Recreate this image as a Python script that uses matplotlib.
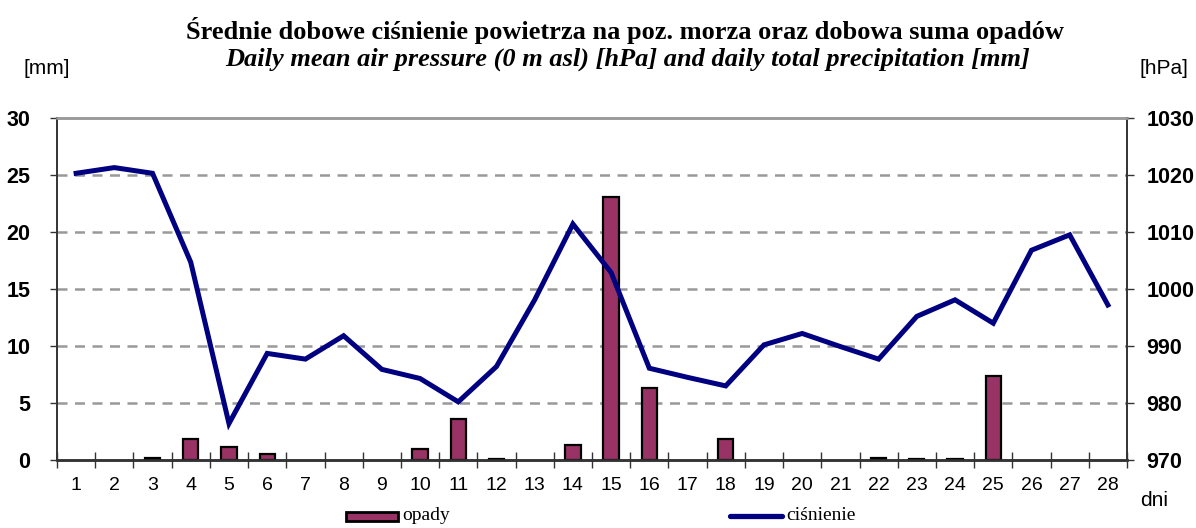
import matplotlib.pyplot as plt
import numpy as np

# dane
dni = list(range(1, 29))
opady = [0, 0, 0.2, 1.8, 1.1, 0.5, 0, 0, 0, 1.0, 3.6, 0.1, 0, 1.3,
         23.1, 6.3, 0, 1.8, 0, 0, 0, 0.2, 0.1, 0.1, 7.4, 0, 0, 0]
cisnienie = [1020.3, 1021.3, 1020.3, 1004.7, 976.4, 988.7, 987.7, 991.8,
             985.9, 984.3, 980.2, 986.4, 998.1, 1011.4, 1002.9, 986.1,
             984.5, 983.0, 990.2, 992.2, 989.9, 987.7, 995.2, 998.1,
             994.0, 1006.8, 1009.5, 997.2]
mm_ticks = [0, 5, 10, 15, 20, 25, 30]
hpa_ticks = [970, 980, 990, 1000, 1010, 1020, 1030]

serif = 'Liberation Serif'
sans = 'Liberation Sans'

fig = plt.figure(figsize=(11.96, 5.28), dpi=100)
ax = fig.add_axes([57/1196, 1 - 460/528, 1070/1196, 342/528])
ax2 = ax.twinx()

x = np.arange(len(dni))
opady_arr = np.array(opady)
niezerowe = opady_arr > 0
# dni bez opadu nie maja slupka
ax.bar(x[niezerowe], opady_arr[niezerowe], width=0.40, color='#993366',
       edgecolor='black', linewidth=1.6, zorder=3)
ax2.plot(x, cisnienie, color='#000080', linewidth=3.6, zorder=4,
         solid_joinstyle='miter')

ax.set_xlim(-0.5, len(dni) - 0.5)
ax.set_ylim(0, 30)
ax2.set_ylim(970, 1030)
ax.set_yticks(mm_ticks)
ax2.set_yticks(hpa_ticks)
ax.set_yticklabels([str(t) for t in mm_ticks], fontfamily=sans,
                   fontweight='bold', fontsize=15.5)
ax2.set_yticklabels([str(t) for t in hpa_ticks], fontfamily=sans,
                    fontweight='bold', fontsize=15.5)

# os x - podpisy na srodku, kreski miedzy kategoriami
ax.set_xticks(x)
ax.set_xticklabels([str(d) for d in dni], fontfamily=sans, fontsize=14)
ax.tick_params(axis='x', which='major', length=0, pad=12)
ax.set_xticks(np.arange(-0.5, len(dni)), minor=True)
ax.tick_params(axis='x', which='minor', length=11, direction='inout',
               width=1, color='#333333')
ax.tick_params(axis='y', length=5, width=1, color='#333333', pad=14)
ax2.tick_params(axis='y', length=5, width=1, color='#333333', pad=9)

# siatka
for t in mm_ticks[1:-1]:
    ax.axhline(t, color='#999999', linestyle=(0, (4, 3)), linewidth=1.8,
               zorder=1)

for a in (ax, ax2):
    a.spines['top'].set_color('#999999')
    a.spines['top'].set_linewidth(1.8)
    a.spines['left'].set_color('#333333')
    a.spines['right'].set_color('#333333')
    a.spines['bottom'].set_color('#333333')
    a.spines['left'].set_linewidth(1.2)
    a.spines['right'].set_linewidth(1.2)
    a.spines['bottom'].set_linewidth(1.8)

ax.set_zorder(ax2.get_zorder() - 1)
ax2.patch.set_visible(False)

# tytul
fig.text(625/1196, 1 - 31/528,
         'Średnie dobowe ciśnienie powietrza na poz. morza oraz dobowa suma opadów',
         ha='center', va='center', fontfamily=serif, fontweight='bold',
         fontsize=19)
fig.text(628/1196, 1 - 59/528,
         'Daily mean air pressure (0 m asl) [hPa] and daily total precipitation [mm]',
         ha='center', va='center', fontfamily=serif, fontweight='bold',
         fontstyle='italic', fontsize=19)
fig.text(47/1196, 1 - 68/528, '[mm]', ha='center', va='center',
         fontfamily=sans, fontsize=15)
fig.text(1164/1196, 1 - 68/528, '[hPa]', ha='center', va='center',
         fontfamily=sans, fontsize=15)
fig.text(1154/1196, 1 - 500/528, 'dni', ha='center', va='center',
         fontfamily=sans, fontsize=15)

# legenda
leg_ax = fig.add_axes([0, 0, 1, 1], facecolor='none')
leg_ax.set_xlim(0, 1196)
leg_ax.set_ylim(528, 0)
leg_ax.axis('off')
leg_ax.add_patch(plt.Rectangle((346, 512), 52, 9, facecolor='#993366',
                               edgecolor='black', linewidth=2))
leg_ax.text(402, 516, 'opady', ha='left', va='center', fontfamily=serif,
            fontsize=14)
leg_ax.plot([730, 782], [516, 516], color='#000080', linewidth=3.8,
            solid_capstyle='round')
leg_ax.text(786, 516, 'ciśnienie', ha='left', va='center', fontfamily=serif,
            fontsize=14)

plt.savefig('out.png', dpi=100)
